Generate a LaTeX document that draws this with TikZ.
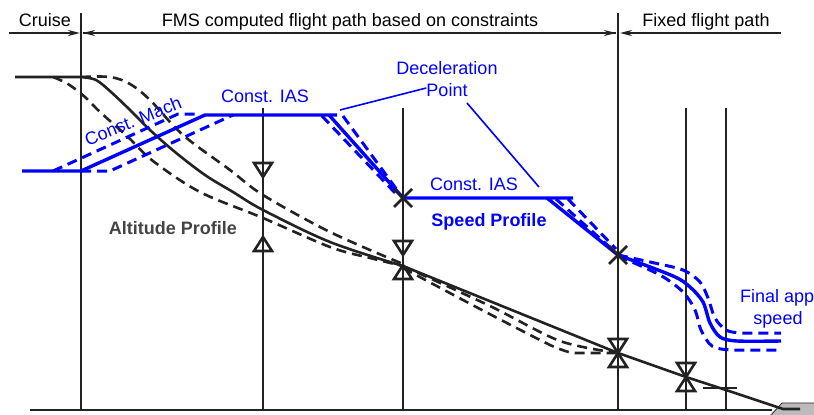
\documentclass[tikz,border=0pt]{standalone}
\usepackage{fontspec}
\setmainfont{Liberation Sans}
\usetikzlibrary{arrows.meta}
\definecolor{ink}{HTML}{222222}
\definecolor{bl}{HTML}{0000FF}
\definecolor{altc}{HTML}{444444}
\definecolor{rwy}{HTML}{BBBBBB}
\tikzset{
  thickv/.style={ink, line width=2.8pt},
  thinv/.style={ink, line width=1.5pt},
  dimline/.style={ink, line width=2.8pt},
  tipr/.style={-{Stealth[length=12pt,width=6pt]}},
  altsolid/.style={ink, line width=2.6pt},
  altdash/.style={ink, line width=2.6pt, dash pattern=on 10pt off 6pt},
  spdsolid/.style={bl, line width=3.4pt},
  spddash/.style={bl, line width=3pt, dash pattern=on 10pt off 6pt},
  leader/.style={bl, line width=1.6pt},
  lbl/.style={font=\fontsize{18}{20}\selectfont, inner sep=0pt, anchor=base},
  bluelbl/.style={lbl, text=bl},
  marker/.style={ink, line width=2.6pt, line join=miter},
  dtri/.pic={\draw[marker] (-9,-14)--(9,-14)--(0,0)--cycle;},
  utri/.pic={\draw[marker] (-9,14)--(9,14)--(0,0)--cycle;},
  xmk/.pic={\draw[marker] (-9,-9)--(9,9) (-9,9)--(9,-9);}
}
\begin{document}
\begin{tikzpicture}[x=1pt,y=-1pt]
\useasboundingbox (0,0) rectangle (814,415);

% frame lines
\coordinate (gL) at (30,410);
\coordinate (gR) at (772,410);
\draw[thickv] (gL) -- (gR);
\coordinate (v1t) at (81,13);   \coordinate (v1b) at (81,410);
\coordinate (v2t) at (618,13);  \coordinate (v2b) at (618,410);
\draw[thickv] (v1t) -- (v1b);
\draw[thickv] (v2t) -- (v2b);
\foreach \xx in {263,403,686,726}{
  \draw[thinv] (\xx,108) -- (\xx,410);
}

% runway
\draw[ink, line width=0.8pt, fill=rwy] (770,416) -- (782,403) -- (815,403) -- (815,416) -- cycle;

% dimension arrows
\coordinate (a1) at (9,33);   \coordinate (a2) at (80,33);
\coordinate (a3) at (83,33);  \coordinate (a4) at (616,33);
\coordinate (a5) at (620,33); \coordinate (a6) at (781,33);
\draw[dimline, tipr] (a1) -- (a2);
\draw[dimline, tipr] (a4) -- (a3);
\draw[dimline, tipr] (a3) -- (a4);
\draw[dimline, tipr] (a6) -- (a5);

\node[lbl] (cruise) at (45,26) {Cruise};
\node[lbl] (fms) at (350,26) {FMS computed flight path based on constraints};
\node[lbl] (fixed) at (706,26) {Fixed flight path};

% altitude profile
\draw[altsolid, line join=round] (15,77) -- (81,77)
  plot[smooth, tension=0.55] coordinates {(81,77) (96,80) (111,92) (130,110) (150,130) (175,152) (205,175) (233,192) (263,210) (330,242) (403,266)}
  -- (618,353) -- (686,377) -- (726,390) -- (783,409) -- (800,409);
\draw[altdash] plot[smooth, tension=0.55] coordinates {(81,77) (110,77) (130,84) (150,100) (183,135) (230,170) (263,195) (330,232) (403,264)};
\draw[altdash] plot[smooth, tension=0.55] coordinates {(53,77) (68,84) (85,97) (100,112) (128,137) (153,161) (200,192) (263,218) (330,247) (370,258) (403,266)};
\draw[altdash] plot[smooth, tension=0.5] coordinates {(403,266) (490,306) (560,341) (618,353)};
\draw[altdash] plot[smooth, tension=0.4] coordinates {(403,268) (480,309) (550,345) (572,353)} -- (618,353);

% speed profile
\draw[spdsolid, line join=round] (22,171) -- (81,171) -- (205,115) -- (337,115);
\draw[spdsolid] (329,115) -- (396,190) -- (403,198) -- (573,198);
\draw[spdsolid] (547,198) -- (618,255);
\draw[spdsolid] plot[smooth, tension=0.5] coordinates {(618,255) (673,276) (690,287) (703,302) (710,323) (720,337) (737,341) (781,341)};

\draw[spddash] (53,171) -- (178,114) -- (195,114);
\draw[spddash] (81,171) -- (110,171) -- (233,115);
\draw[spddash] (322,116) -- (398,196);
\draw[spddash] (343,116) -- (400,194);
\draw[spddash] (556,199) -- (614,251);
\draw[spddash] (568,199) -- (616,249);
\draw[spddash] plot[smooth, tension=0.5] coordinates {(618,255) (650,262) (683,270) (700,282) (708,298) (715,318) (726,330) (742,333) (781,333)};
\draw[spddash] plot[smooth, tension=0.5] coordinates {(618,256) (660,275) (683,292) (695,310) (701,330) (712,346) (732,350) (781,350)};

% constraint markers
\pic at (263,177) {dtri};
\pic at (263,237) {utri};
\pic at (403,255) {dtri};
\pic at (403,265) {utri};
\pic at (618,353) {dtri};
\pic at (618,353) {utri};
\pic at (686,377) {dtri};
\pic at (686,377) {utri};
\draw[ink, line width=1.4pt] (703,388) -- (737,388);
\pic at (403,198) {xmk};
\pic at (618,255) {xmk};

% labels
\node[bluelbl, anchor=center, rotate=22] (mach) at (133,121) {Const. Mach};
\node[bluelbl] (ias1) at (265,102) {Const. IAS};
\node[bluelbl] (decel) at (447,74) {Deceleration};
\node[bluelbl] (point) at (447,96) {Point};
\node[bluelbl] (ias2) at (474,190) {Const. IAS};
\node[bluelbl, font=\fontsize{18}{20}\selectfont\bfseries] (speed) at (489,226) {Speed Profile};
\node[lbl, text=altc, font=\fontsize{18}{20}\selectfont\bfseries] (altp) at (173,234) {Altitude Profile};
\node[bluelbl, anchor=base west] (fin1) at (740,302) {Final app};
\node[bluelbl] (fin2) at (778,324) {speed};

\coordinate (l1a) at (340,110);
\coordinate (l2a) at (539,187);
\draw[leader] (l1a) -- (point.west |- 0,88);
\draw[leader] (467,103) -- (l2a);
\end{tikzpicture}
\end{document}
